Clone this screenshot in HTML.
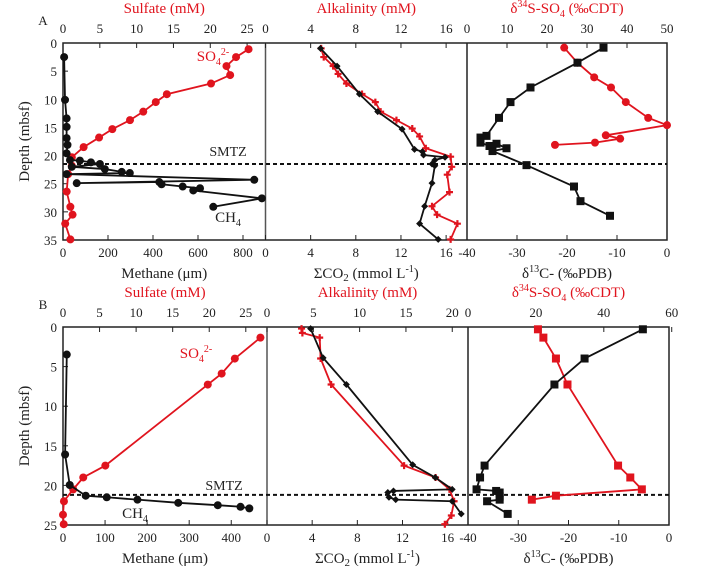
<!DOCTYPE html>
<html><head><meta charset="utf-8">
<style>
html,body{margin:0;padding:0;background:#fff;}
svg{display:block;font-family:"Liberation Serif",serif;}
</style></head>
<body>
<svg id="fig" width="707" height="575" viewBox="0 0 707 575" xmlns="http://www.w3.org/2000/svg"></svg>
<script>
// ---------- DATA: Panel A ----------
const aSulfateDepth = [1.1,2.5,4.1,5.7,7.2,9.1,10.5,12.2,13.7,15.3,16.8,18.5,20.3,21.8,23.3,26.4,29.1,30.5,32.1,34.9];
const aSulfateVal   = [25.2,23.5,22.2,22.7,20.1,14.1,12.6,10.9,9.1,6.7,4.9,2.8,1.2,1.2,0.7,0.5,1.0,1.3,0.3,1.0];
const aMethaneDepth = [2.5,10.1,13.4,14.9,16.9,18.1,19.6,20.8,20.9,21.2,21.5,22.0,22.4,22.9,23.1,23.3,24.3,24.9,24.7,25.1,25.5,25.8,26.2,27.6,29.1];
const aMethaneVal   = [5,9,16,16,16,20,16,31,75,124,164,39,186,261,297,16,850,61,428,438,532,609,579,884,668];
const aCO2Depth = [0.95,4.1,9.06,12.2,15.3,18.9,19.3,19.9,20.3,20.8,21.5,21.8,24.9,29.0,32.1,34.9];
const aCO2Val   = [4.87,6.34,8.32,9.94,12.1,13.2,13.9,14.0,15.9,15.0,14.75,15.0,14.75,14.1,13.65,15.3];
const aAlkDepth = [0.95,2.5,4.1,5.5,7.2,9.06,10.5,12.2,13.7,15.2,16.6,18.7,20.2,22.0,23.4,26.5,29.0,30.5,32.1,34.9];
const aAlkVal   = [4.93,5.16,5.99,6.43,7.17,8.55,9.73,10.2,11.6,13.0,13.65,14.2,16.4,16.5,16.1,16.3,14.75,15.2,17.0,16.4];
const aC13Depth = [0.83,3.5,7.9,10.5,13.3,16.5,16.8,17.7,18.3,17.9,18.7,19.2,21.7,25.5,28.1,30.7];
const aC13Val   = [-12.7,-17.9,-27.3,-31.3,-33.6,-36.1,-37.3,-37.3,-35.5,-34.1,-32.1,-34.9,-28.1,-18.6,-17.3,-11.4];
const aS34Depth = [0.83,3.5,6.1,7.9,10.5,13.3,14.6,16.4,17.0,17.7,18.1];
const aS34Val   = [24.3,27.6,31.8,36.0,39.7,45.3,50.0,34.7,38.3,32.0,22.0];
const aSMTZ = 21.5;
// ---------- DATA: Panel B ----------
const bSulfateDepth = [1.34,3.99,5.88,7.27,17.5,19.0,20.5,22.0,23.7,24.9];
const bSulfateVal   = [27.0,23.5,21.7,19.8,5.79,2.77,1.39,0.13,0.0,0.1];
const bMethaneDepth = [3.48,16.1,19.95,21.3,21.5,21.8,22.2,22.5,22.7,22.9];
const bMethaneVal   = [9,5,16,54,104,177,274,368,422,443];
const bCO2Depth = [0.2,3.9,7.26,17.4,19.0,20.5,20.7,20.9,21.5,21.8,22.0,23.6];
const bCO2Val   = [3.86,4.97,7.03,12.9,14.9,16.4,11.2,10.7,10.8,11.4,16.4,17.2];
const bAlkDepth = [0.2,0.75,1.34,3.98,7.26,17.5,19.0,20.5,22.0,23.8,24.9];
const bAlkVal   = [3.73,3.82,5.69,5.79,6.92,14.8,18.2,19.7,20.2,19.9,19.2];
const bC13Depth = [0.29,3.98,7.26,17.5,19.0,20.5,20.7,20.9,21.4,21.8,22.0,23.6];
const bC13Val   = [-5.2,-16.8,-22.8,-36.7,-37.6,-38.3,-34.4,-33.7,-33.7,-33.7,-36.2,-32.1];
const bS34Depth = [0.29,1.34,3.98,7.26,17.5,19.0,20.5,21.3,21.8];
const bS34Val   = [20.6,22.2,25.9,29.3,44.2,47.8,51.2,25.9,18.8];
const bSMTZ = 21.2;
// tick label arrays
const aDepthTicks = [0,5,10,15,20,25,30,35];
const bDepthTicks = [0,5,10,15,20,25];
const aSulfateTicks = [0,5,10,15,20,25];
const aMethaneTicks = [0,200,400,600,800];
const aAlkTicks = [0,4,8,12,16];
const aCO2Ticks = [0,4,8,12,16];
const aS34Ticks = [0,10,20,30,40,50];
const aC13Ticks = [-40,-30,-20,-10,0];
const bSulfateTicks = [0,5,10,15,20,25];
const bMethaneTicks = [0,100,200,300,400];
const bAlkTicks = [0,5,10,15,20];
const bCO2Ticks = [0,4,8,12,16];
const bS34Ticks = [0,20,40,60];
const bC13Ticks = [-40,-30,-20,-10,0];

const NS="http://www.w3.org/2000/svg";
const svg=document.getElementById('fig');
const RED="#e0141e";
function lin(d0,d1,r0,r1){return v=>r0+(v-d0)*(r1-r0)/(d1-d0);}
function el(tag,attrs,parent){const e=document.createElementNS(NS,tag);for(const k in attrs)e.setAttribute(k,attrs[k]);(parent||svg).appendChild(e);return e;}
function txt(x,y,s,opts,name){
  const t=el('text',{x:x,y:y,'font-size':(opts&&opts.size)||14,fill:(opts&&opts.fill)||'#222','text-anchor':(opts&&opts.anchor)||'middle'});
  
  
  if(opts&&opts.html)t.innerHTML=s;else t.textContent=s;
  return t;
}
function marker(g,type,x,y,color){
  let m;
  if(type==='circle')m=el('circle',{cx:x,cy:y,r:4,fill:color},g);
  else if(type==='square')m=el('rect',{x:x-4,y:y-4,width:8,height:8,fill:color},g);
  else if(type==='diamond')m=el('polygon',{points:`${x},${y-3.5} ${x+3.5},${y} ${x},${y+3.5} ${x-3.5},${y}`,fill:color},g);
  else m=el('path',{d:`M${x-3.5},${y}L${x+3.5},${y}M${x},${y-3.5}L${x},${y+3.5}`,stroke:color,'stroke-width':2.2},g);
  
  
}
function series(vals,depths,xs,ys,color,mk,name){
  const g=el('g',{});
  
  
  const pts=vals.map((v,i)=>xs(v)+','+ys(depths[i])).join(' ');
  const pl=el('polyline',{points:pts,fill:'none',stroke:color,'stroke-width':1.8},g);
  
  
  vals.forEach((v,i)=>marker(g,mk,xs(v),ys(depths[i]),color));
}
function xTicks(ticks,xs,y,dir,labY,name){
  ticks.forEach(t=>{
    const x=xs(t);
    el('line',{x1:x,y1:y,x2:x,y2:y+dir*5,stroke:'#222','stroke-width':1});
    txt(x,labY,String(t),{size:13},name);
  });
}
function panel(P){
  const ys=lin(0,P.dmax,P.top,P.bot);
  // frame
  const fr=el('rect',{x:P.x0,y:P.top,width:P.x3-P.x0,height:P.bot-P.top,fill:'none',stroke:'#222','stroke-width':1.5});
  
  el('line',{x1:P.x1,y1:P.top,x2:P.x1,y2:P.bot,stroke:'#555','stroke-width':1.5});
  el('line',{x1:P.x2,y1:P.top,x2:P.x2,y2:P.bot,stroke:'#222','stroke-width':1.5});
  // depth ticks
  P.dticks.forEach(d=>{el('line',{x1:P.x0,y1:ys(d),x2:P.x0+5,y2:ys(d),stroke:'#222'});txt(P.x0-6,ys(d)+5,String(d),{size:13,anchor:'end'},'depth-tick-label');});
  const yl=txt(0,0,'Depth (mbsf)',{size:15},'y-axis-title');
  yl.setAttribute('transform',`translate(${P.x0-34},${(P.top+P.bot)/2}) rotate(-90)`);
  txt(43,P.top-18,P.id,{size:13,anchor:'middle'},'panel-label-'+P.id);
  // scales
  const sxS=lin(0,P.sMax,P.x0,P.x1), sxM=lin(0,P.mMax,P.x0,P.x1);
  const sxA=lin(0,P.aMax,P.x1,P.x2), sxC=lin(0,P.cMax,P.x1,P.x2);
  const sxS34=lin(0,P.s34Max,P.x2,P.x3), sxC13=lin(-40,0,P.x2,P.x3);
  xTicks(P.sTicks,sxS,P.top,1,P.top-10,'sulfate-tick-label');
  xTicks(P.aTicks,sxA,P.top,1,P.top-10,'alkalinity-tick-label');
  xTicks(P.s34Ticks,sxS34,P.top,1,P.top-10,'d34s-tick-label');
  xTicks(P.mTicks,sxM,P.bot,-1,P.bot+17,'methane-tick-label');
  xTicks(P.cTicks,sxC,P.bot,-1,P.bot+17,'co2-tick-label');
  xTicks(P.c13Ticks,sxC13,P.bot,-1,P.bot+17,'d13c-tick-label');
  // titles
  txt((P.x0+P.x1)/2,P.top-30,'Sulfate (mM)',{size:15,fill:RED},'sulfate-axis-title');
  txt((P.x1+P.x2)/2,P.top-30,'Alkalinity (mM)',{size:15,fill:RED},'alkalinity-axis-title');
  txt((P.x2+P.x3)/2,P.top-30,'δ<tspan font-size="10" dy="-6">34</tspan><tspan dy="6">S-SO</tspan><tspan font-size="10" dy="4">4</tspan><tspan dy="-4"> (‰CDT)</tspan>',{size:15,fill:RED,html:true},'d34s-axis-title');
  txt((P.x0+P.x1)/2,P.bot+38,'Methane (μm)',{size:15},'methane-axis-title');
  txt((P.x1+P.x2)/2,P.bot+38,'ΣCO<tspan font-size="11" dy="3">2</tspan><tspan dy="-3"> (mmol L</tspan><tspan font-size="10" dy="-6">-1</tspan><tspan dy="6">)</tspan>',{size:15,html:true},'co2-axis-title');
  txt((P.x2+P.x3)/2,P.bot+38,'δ<tspan font-size="10" dy="-6">13</tspan><tspan dy="6">C- (‰PDB)</tspan>',{size:15,html:true},'d13c-axis-title');
  // SMTZ
  const sm=el('line',{x1:P.x0,y1:ys(P.smtz),x2:P.x3,y2:ys(P.smtz),stroke:'#111','stroke-width':2,'stroke-dasharray':'4,3'});
  
  // series
  series(P.sulV,P.sulD,sxS,ys,RED,'circle','sulfate-series');
  series(P.metV,P.metD,sxM,ys,'#111','circle','methane-series');
  series(P.alkV,P.alkD,sxA,ys,RED,'plus','alkalinity-series');
  series(P.co2V,P.co2D,sxC,ys,'#111','diamond','co2-series');
  series(P.s34V,P.s34D,sxS34,ys,RED,P.s34mk,'d34s-series');
  series(P.c13V,P.c13D,sxC13,ys,'#111','square','d13c-series');
  // annotations
  txt(P.smtzLab[0],P.smtzLab[1],'SMTZ',{size:14},'smtz-label');
  txt(P.so4Lab[0],P.so4Lab[1],'SO<tspan font-size="10" dy="4">4</tspan><tspan font-size="10" dy="-10">2-</tspan>',{size:15,fill:RED,html:true},'so4-label');
  txt(P.ch4Lab[0],P.ch4Lab[1],'CH<tspan font-size="10" dy="4">4</tspan>',{size:15,html:true},'ch4-label');
}
panel({id:'A',top:43,bot:240,dmax:35,x0:63,x1:265.5,x2:467,x3:667,
  sMax:27.5,mMax:900,aMax:17.85,cMax:17.85,s34Max:50,
  dticks:aDepthTicks,sTicks:aSulfateTicks,mTicks:aMethaneTicks,aTicks:aAlkTicks,cTicks:aCO2Ticks,s34Ticks:aS34Ticks,c13Ticks:aC13Ticks,
  sulV:aSulfateVal,sulD:aSulfateDepth,metV:aMethaneVal,metD:aMethaneDepth,alkV:aAlkVal,alkD:aAlkDepth,co2V:aCO2Val,co2D:aCO2Depth,
  s34V:aS34Val,s34D:aS34Depth,s34mk:'circle',c13V:aC13Val,c13D:aC13Depth,smtz:aSMTZ,
  smtzLab:[228,156],so4Lab:[213,61],ch4Lab:[228,222]});
panel({id:'B',top:327,bot:525,dmax:25,x0:63,x1:267,x2:468,x3:669,
  sMax:27.9,mMax:485,aMax:21.7,cMax:17.8,s34Max:59.2,
  dticks:bDepthTicks,sTicks:bSulfateTicks,mTicks:bMethaneTicks,aTicks:bAlkTicks,cTicks:bCO2Ticks,s34Ticks:bS34Ticks,c13Ticks:bC13Ticks,
  sulV:bSulfateVal,sulD:bSulfateDepth,metV:bMethaneVal,metD:bMethaneDepth,alkV:bAlkVal,alkD:bAlkDepth,co2V:bCO2Val,co2D:bCO2Depth,
  s34V:bS34Val,s34D:bS34Depth,s34mk:'square',c13V:bC13Val,c13D:bC13Depth,smtz:bSMTZ,
  smtzLab:[224,490],so4Lab:[196,358],ch4Lab:[135,518]});
</script>
</body></html>
